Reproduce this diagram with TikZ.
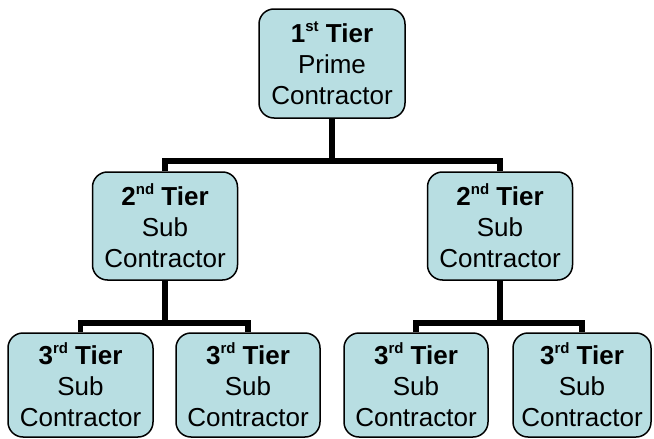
\documentclass[tikz,border=0pt]{standalone}
\usepackage{fontspec}
\setmainfont{Liberation Sans}
\newcommand{\tiersup}[1]{\raisebox{0.42em}{\fontsize{15}{15}\selectfont #1}}
\definecolor{boxfill}{RGB}{184,222,226}
\tikzset{
  tierbox/.style={draw=black, line width=1.5pt, fill=boxfill, rounded corners=15pt,
    minimum height=108pt, inner sep=0pt, align=center,
    font=\fontsize{26}{31}\selectfont},
  bar/.style={line width=5.5pt, draw=black}
}
\begin{document}
\begin{tikzpicture}[x=1pt,y=-1pt]
\useasboundingbox (0,0) rectangle (654,439);
% nodes
\node[tierbox, minimum width=146pt, minimum height=109pt] (t1) at (332,63.5)
  {\textbf{1\tiersup{st} Tier}\\Prime\\Contractor};
\node[tierbox, minimum width=145pt] (t2a) at (165,226)
  {\textbf{2\tiersup{nd} Tier}\\Sub\\Contractor};
\node[tierbox, minimum width=145pt] (t2b) at (500,226)
  {\textbf{2\tiersup{nd} Tier}\\Sub\\Contractor};
\node[tierbox, minimum width=145pt, minimum height=104pt] (t3a) at (80.5,385)
  {\textbf{3\tiersup{rd} Tier}\\Sub\\Contractor};
\node[tierbox, minimum width=144pt, minimum height=104pt] (t3b) at (248,385)
  {\textbf{3\tiersup{rd} Tier}\\Sub\\Contractor};
\node[tierbox, minimum width=144pt, minimum height=104pt] (t3c) at (416,385)
  {\textbf{3\tiersup{rd} Tier}\\Sub\\Contractor};
\node[tierbox, minimum width=138pt, minimum height=104pt] (t3d) at (582,385)
  {\textbf{3\tiersup{rd} Tier}\\Sub\\Contractor};
% junctions
\coordinate (j1) at (332,161);
\coordinate (j2) at (165,323);
\coordinate (j3) at (500,323);
% connectors
\draw[bar] (t1.south) -- (j1);
\draw[bar] (t2a.north) |- (j1) -| (t2b.north);
\draw[bar] (t2a.south) -- (j2);
\draw[bar] (t3a.north) |- (j2) -| (t3b.north);
\draw[bar] (t2b.south) -- (j3);
\draw[bar] (t3c.north) |- (j3) -| (t3d.north);
\end{tikzpicture}
\end{document}
